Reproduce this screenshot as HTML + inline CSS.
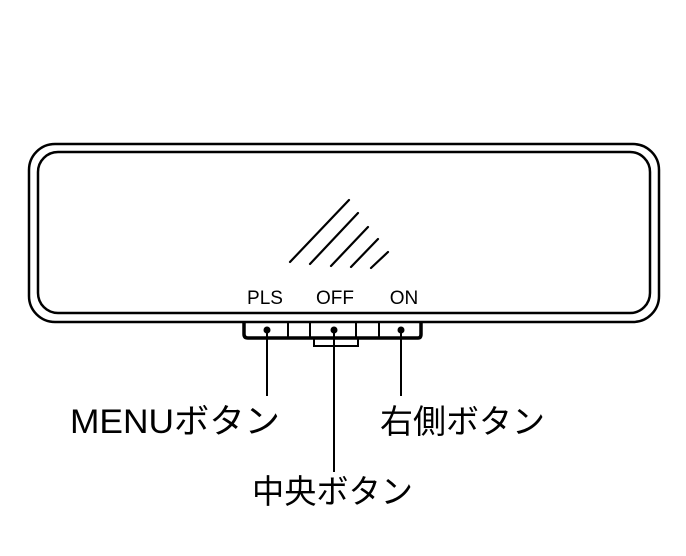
<!DOCTYPE html>
<html><head><meta charset="utf-8"><style>
html,body{margin:0;padding:0;background:#fff;}
svg{display:block}
text{font-family:"Liberation Sans","Noto Sans CJK JP",sans-serif;fill:#000}
</style></head><body>
<svg width="686" height="556" viewBox="0 0 686 556" xmlns="http://www.w3.org/2000/svg">
<g fill="none" stroke="#000">
<rect x="29" y="144" width="630" height="178" rx="26" stroke-width="2.5"/>
<rect x="38" y="152" width="612" height="161" rx="20" stroke-width="2.5"/>
<g stroke-width="2.2" stroke-linecap="round">
<line x1="290" y1="262" x2="349" y2="200"/>
<line x1="310" y1="264" x2="358" y2="213"/>
<line x1="331" y1="266" x2="368" y2="227"/>
<line x1="351" y1="267" x2="378" y2="239"/>
<line x1="371" y1="268" x2="388" y2="252"/>
</g>
<path d="M244 322 L244 334 Q244 338 248 338 L418 338 Q421 338 421 334 L421 322" stroke-width="3.5"/>
<g stroke-width="2">
<line x1="288" y1="322" x2="288" y2="338"/>
<line x1="310" y1="322" x2="310" y2="338"/>
<line x1="356" y1="322" x2="356" y2="338"/>
<line x1="379" y1="322" x2="379" y2="338"/>
<path d="M314 338 L314 346 L358 346 L358 338"/>
<line x1="267" y1="330" x2="267" y2="396"/>
<line x1="334" y1="330" x2="334" y2="472"/>
<line x1="401" y1="330" x2="401" y2="396"/>
</g>
</g>
<circle cx="267" cy="330" r="3.5"/>
<circle cx="334" cy="330" r="3.5"/>
<circle cx="401" cy="330" r="3.5"/>
<text x="265" y="304" font-size="19" text-anchor="middle">PLS</text>
<text x="335" y="304" font-size="19" text-anchor="middle">OFF</text>
<text x="404" y="304" font-size="19" text-anchor="middle">ON</text>
<text x="70" y="433" font-size="34" textLength="210" lengthAdjust="spacingAndGlyphs">MENUボタン</text>
<text x="380" y="433" font-size="33" textLength="165" lengthAdjust="spacingAndGlyphs">右側ボタン</text>
<text x="252" y="503" font-size="33" textLength="161" lengthAdjust="spacingAndGlyphs">中央ボタン</text>
</svg>
</body></html>
